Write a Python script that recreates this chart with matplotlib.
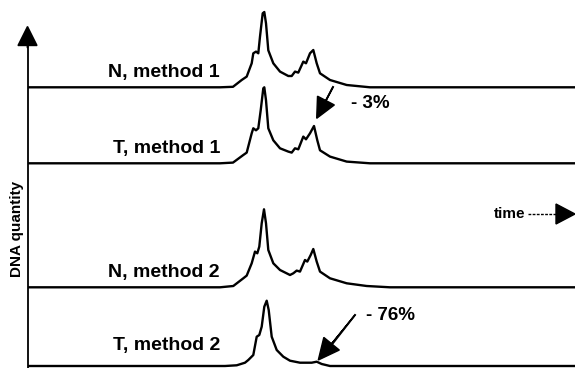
import matplotlib
matplotlib.use("Agg")
import matplotlib.pyplot as plt

# trace data: time (x) and signal height above baseline
labels = ["N, method 1", "T, method 1", "N, method 2", "T, method 2"]

t_n1 = [28, 220, 233, 241.7, 246.7, 251.7, 253.3, 256, 258.3, 260, 262.7, 264.3, 266, 268.3,
        273.3, 280, 288.3, 291.7, 295, 298.3, 303.3, 306, 310, 313.3, 316.7, 320, 330, 346.7, 370, 575]
h_n1 = [0, 0, 0.5, 7.3, 10.7, 24, 34, 35.7, 34, 50.7, 74, 75.3, 64, 37,
        24, 15.7, 11.3, 11.3, 15.7, 14.7, 25.7, 24, 34, 37.3, 24, 14, 7.3, 2.3, 0, 0]

t_t1 = [28, 220, 233, 243.3, 246.7, 251.7, 253.3, 256, 258.3, 260.7, 263.3, 264.3, 266, 268.3,
        273.3, 280, 288.3, 291.7, 295, 298.3, 303.3, 306, 310, 314, 317.3, 320, 330, 346.7, 370, 575]
h_t1 = [0, 0, 0.7, 8.3, 10.7, 30, 35, 33, 35, 53, 75, 76, 63, 35,
        23, 15, 11.7, 10.7, 15, 14, 26.7, 24, 30, 37.3, 23, 13, 6.7, 1.7, 0, 0]

t_n2 = [28, 220, 233.3, 243.3, 246.7, 251.7, 255, 257.3, 259.3, 261.7, 264, 266, 268.3, 273.3,
        280, 290, 293.3, 296.7, 300, 305, 307.3, 310.7, 313.3, 316.7, 320, 330, 346.7, 366.7, 390, 575]
h_n2 = [0, 0, 1.3, 9, 11.7, 24, 35.7, 34, 40.7, 64, 78, 64, 37.3, 24,
        17.3, 12.3, 14, 16.7, 15.7, 27.3, 25.7, 32.3, 38.3, 25.7, 15.7, 9, 4, 1.3, 0, 0]

t_t2 = [28, 225, 236.7, 245, 248.3, 253.3, 256.7, 259.3, 261.7, 264.3, 266.7, 268.7, 271.7,
        276.7, 283.3, 290, 300, 311.7, 316.7, 321.7, 330, 575]
h_t2 = [0, 0, 0.7, 3.3, 6, 11, 29.3, 31, 39.3, 59.3, 65.3, 56, 29.3,
        16, 9.3, 5.3, 3.3, 3.3, 4.3, 2, 0, 0]

times = [t_n1, t_t1, t_n2, t_t2]
heights = [h_n1, h_t1, h_n2, h_t2]

# layout (figure pixel space, y upwards)
baselines = [280.7, 204.7, 80.7, 2.0]
label_y = [291, 215, 91, 18]
axis_x = 27.5

fig = plt.figure(figsize=(5.75, 3.68), dpi=100)
ax = fig.add_axes([0, 0, 1, 1])
ax.set_xlim(0, 575)
ax.set_ylim(0, 368)
ax.axis("off")

font = "Liberation Sans"

for t, h, base, lab, ly in zip(times, heights, baselines, labels, label_y):
    ax.plot(t, [base + v for v in h], color="black", lw=1.7,
            solid_joinstyle="round", solid_capstyle="butt")
    ax.text(220, ly, lab, ha="right", va="baseline", fontsize=14,
            fontweight="bold", family=font)

# vertical axis with arrow head
ax.plot([axis_x, axis_x], [0, 330], color="black", lw=1.3)
ax.arrow(axis_x, 320, 0, 21.5, width=0.01, head_width=19, head_length=19,
         length_includes_head=True, color="black")
ax.text(17.5, 139, "DNA quantity", rotation=90, ha="center", va="center",
        fontsize=11, fontweight="bold", family=font)

# time arrow
ax.plot([528, 558], [154, 154], color="black", lw=1, linestyle=(0, (2, 1)))
ax.arrow(556, 154, 19, 0, width=0.01, head_width=20, head_length=19,
         length_includes_head=True, color="black")
ax.text(494, 154, "time", ha="left", va="center", fontsize=11,
        fontweight="bold", family=font)

# -3% annotation
ax.plot([333, 323], [281, 262], color="black", lw=1.4)
ax.arrow(333, 281, -16.3, -31.3, width=0.01, head_width=19, head_length=20,
         length_includes_head=True, color="black")
ax.text(351, 264, "- 3%", ha="left", va="center", fontsize=13.5,
        fontweight="bold", family=font)

# -76% annotation
ax.plot([355, 330], [53, 21], color="black", lw=1.4)
ax.arrow(355, 53, -36.7, -45, width=0.01, head_width=20, head_length=21,
         length_includes_head=True, color="black")
ax.text(366, 52, "- 76%", ha="left", va="center", fontsize=13.5,
        fontweight="bold", family=font)

fig.savefig("out.png", dpi=100)
